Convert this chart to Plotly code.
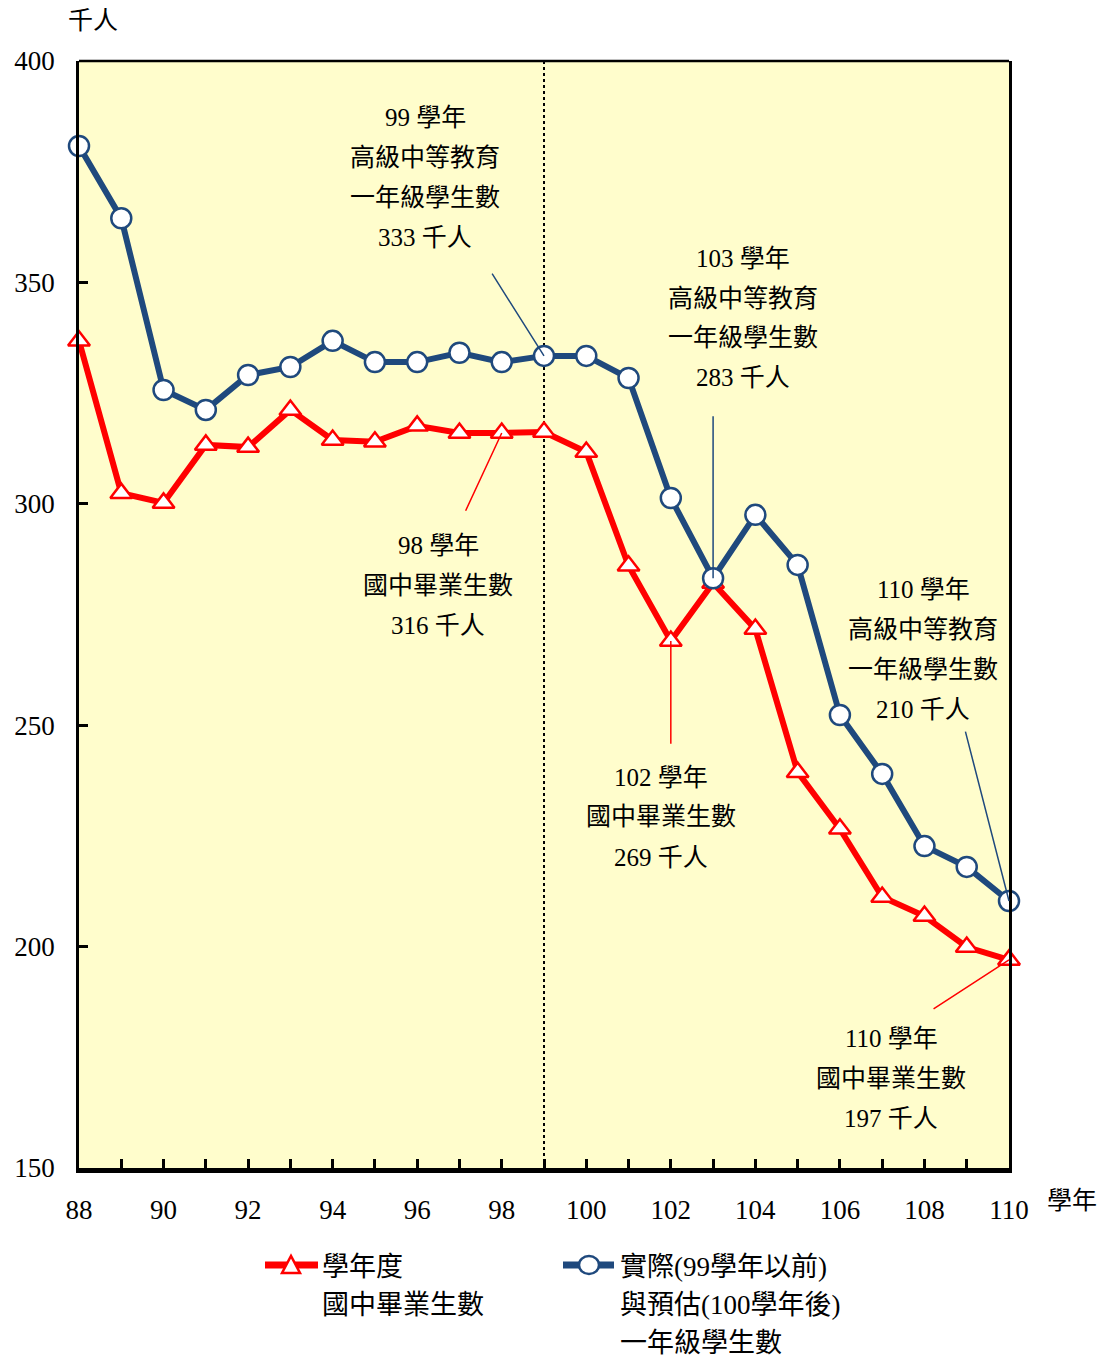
import plotly.graph_objects as go

years = list(range(88, 111))
graduates = [336.8, 302.4, 300.2, 313.3, 312.8, 321.2, 314.4, 314.0, 317.6, 316.0, 316.0, 316.2,
             311.7, 286.0, 269.0, 282.1, 271.7, 239.4, 226.6, 211.2, 206.9, 199.9, 197.0]
freshmen = [380.8, 364.5, 325.7, 321.2, 329.1, 330.9, 336.8, 332.0, 332.0, 334.1, 332.0, 333.4,
            333.4, 328.4, 301.3, 283.2, 297.5, 286.2, 252.3, 239.0, 222.7, 218.0, 210.3]
y_ticks = [150, 200, 250, 300, 350, 400]
x_ticks = list(range(88, 111, 2))

RED = "#FF0000"
BLUE = "#1F497D"
FONT = "Liberation Serif, Times New Roman, Noto Sans CJK TC, serif"

OFF = 8  # page body margin
W, H = 1106 - 2 * OFF, 1368 - 2 * OFF
ML = 79 - OFF
MT = 61 - OFF
MR = W - (1009 - OFF)
MB = H - (1168 - OFF)
PW, PH = W - ML - MR, H - MT - MB


def px(xp):
    return (xp - OFF - ML) / PW


def py(yp):
    return (H - MB - (yp - OFF)) / PH


fig = go.Figure()
fig.add_trace(go.Scatter(
    x=years, y=graduates, mode="lines+markers", name="學年度國中畢業生數",
    line=dict(color=RED, width=6),
    marker=dict(symbol="triangle-up", size=19, color="white", line=dict(color=RED, width=2.5)),
    cliponaxis=False, showlegend=False))
fig.add_trace(go.Scatter(
    x=years, y=freshmen, mode="lines+markers", name="一年級學生數",
    line=dict(color=BLUE, width=6),
    marker=dict(symbol="circle", size=20, color="white", line=dict(color=BLUE, width=2.5)),
    cliponaxis=False, showlegend=False))

shapes = []
shapes.append(dict(type="line", xref="x", yref="y", x0=99, x1=99, y0=150, y1=400,
                   line=dict(color="black", width=2, dash="dot"), layer="below"))
shapes.append(dict(type="line", xref="paper", yref="paper", x0=0, x1=1, y0=1, y1=1,
                   line=dict(color="black", width=2.5)))

annotations = []


def leader(x, y, ax, ay, color):
    annotations.append(dict(x=x, y=y, ax=ax, ay=ay, xref="x", yref="y", axref="x", ayref="y",
                            text="", showarrow=True, arrowhead=0, arrowwidth=1.5,
                            arrowcolor=color, standoff=0))


def label(cx, lines, y0, step=40, size=25):
    for i, t in enumerate(lines):
        annotations.append(dict(x=px(cx), y=py(y0 + i * step), xref="paper", yref="paper",
                                text=t, showarrow=False, xanchor="center", yanchor="middle",
                                font=dict(family=FONT, size=size, color="black")))


leader(99, freshmen[years.index(99)], 97.75, 352.3, BLUE)
leader(103, freshmen[years.index(103)], 103.0, 320.1, BLUE)
leader(110, freshmen[years.index(110)], 108.96, 248.9, BLUE)
leader(98, graduates[years.index(98)], 97.13, 298.1, RED)
leader(102, graduates[years.index(102)], 102.0, 245.5, RED)
leader(110, graduates[years.index(110)], 108.18, 185.7, RED)

label(425, ["99 學年", "高級中等教育", "一年級學生數", "333 千人"], 118)
label(743, ["103 學年", "高級中等教育", "一年級學生數", "283 千人"], 258)
label(438, ["98 學年", "國中畢業生數", "316 千人"], 545)
label(661, ["102 學年", "國中畢業生數", "269 千人"], 777)
label(923, ["110 學年", "高級中等教育", "一年級學生數", "210 千人"], 589)
label(891, ["110 學年", "國中畢業生數", "197 千人"], 1038)

annotations.append(dict(x=px(93), y=py(20), xref="paper", yref="paper", text="千人",
                        xanchor="center", yanchor="middle",
                        showarrow=False, font=dict(family=FONT, size=25, color="black")))
annotations.append(dict(x=px(1072), y=py(1200), xref="paper", yref="paper", text="學年",
                        xanchor="center", yanchor="middle",
                        showarrow=False, font=dict(family=FONT, size=25, color="black")))

ly = py(1265)
shapes.append(dict(type="line", xref="paper", yref="paper", x0=px(265), x1=px(318), y0=ly, y1=ly,
                   line=dict(color=RED, width=7)))
shapes.append(dict(type="path", xref="paper", yref="paper", xsizemode="pixel", ysizemode="pixel",
                   xanchor=px(291), yanchor=ly, path="M -9 -8 L 9 -8 L 0 9 Z",
                   fillcolor="white", line=dict(color=RED, width=2.5)))
shapes.append(dict(type="line", xref="paper", yref="paper", x0=px(563), x1=px(614), y0=ly, y1=ly,
                   line=dict(color=BLUE, width=7)))
shapes.append(dict(type="circle", xref="paper", yref="paper", xsizemode="pixel", ysizemode="pixel",
                   xanchor=px(589), yanchor=ly, x0=-10, x1=10, y0=-9, y1=9,
                   fillcolor="white", line=dict(color=BLUE, width=2.5)))


def legend_text(x0, lines, y0, step=38):
    for i, t in enumerate(lines):
        annotations.append(dict(x=px(x0), y=py(y0 + i * step), xref="paper", yref="paper",
                                text=t, showarrow=False, xanchor="left", yanchor="middle",
                                font=dict(family=FONT, size=27, color="black")))


legend_text(320, ["學年度", "國中畢業生數"], 1267)
legend_text(618, ["實際(99學年以前)", "與預估(100學年後)", "一年級學生數"], 1267)

fig.update_layout(
    width=W, height=H,
    margin=dict(l=ML, r=MR, t=MT, b=MB, autoexpand=False),
    paper_bgcolor="white", plot_bgcolor="#FFFDCC",
    font=dict(family=FONT, size=26, color="black"),
    shapes=shapes, annotations=annotations,
    xaxis=dict(range=[88, 110], tickvals=x_ticks, ticktext=[str(v) for v in x_ticks],
               ticks="inside", ticklen=9, tickwidth=2.5, tickcolor="black",
               minor=dict(dtick=1, tick0=88, ticks="inside", ticklen=9, tickwidth=2.5, tickcolor="black"),
               showline=True, linewidth=5, linecolor="black", showgrid=False, zeroline=False,
               ticklabelstandoff=14, tickfont=dict(family=FONT, size=27)),
    yaxis=dict(range=[150, 400], tickvals=y_ticks, ticks="inside", ticklen=9, tickwidth=2.5,
               tickcolor="black", showline=True, linewidth=2.5, linecolor="black", mirror=True,
               showgrid=False, zeroline=False, ticklabelstandoff=16,
               tickfont=dict(family=FONT, size=27)),
)

fig.write_html("out.html")
